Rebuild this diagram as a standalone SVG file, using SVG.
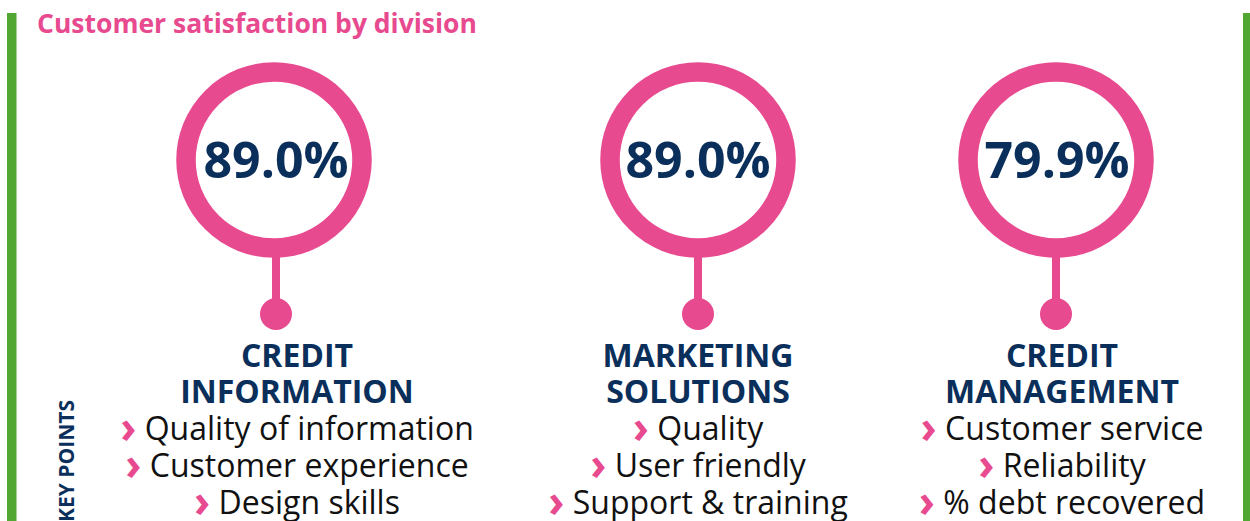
<svg xmlns="http://www.w3.org/2000/svg" width="1250" height="521" viewBox="0 0 1250 521">
<style>
.bar{fill:#52a733}
.ring{fill:#fff;stroke:#e84a8f;stroke-width:19.5}
.stem{stroke:#e84a8f;stroke-width:8}
.dot{fill:#e84a8f}
.pct{font-family:"Open Sans",sans-serif;font-weight:bold;font-size:50px;fill:#0b2f5b;text-anchor:middle}
.head{font-family:"Open Sans",sans-serif;font-weight:bold;font-size:32px;fill:#0b2f5b;text-anchor:middle}
.item{font-family:"Open Sans",sans-serif;font-size:32px;fill:#111;text-anchor:middle}
.chev{fill:#e84a8f;font-weight:bold;font-size:44px}
.title{font-family:"Open Sans",sans-serif;font-weight:bold;font-size:26.5px;fill:#e84a8f}
.key{font-family:"Open Sans",sans-serif;font-weight:bold;font-size:21px;fill:#0b2f5b;text-anchor:end}
</style>
<rect class="bar" x="7" y="13" width="9.5" height="508"/>
<rect class="bar" x="1243" y="13" width="7" height="508"/>
<text class="title" x="37" y="33">Customer satisfaction by division</text>
<text class="key" transform="translate(74,400) rotate(-90)">KEY POINTS</text>
<g id="connectors">
<line class="stem" x1="276" y1="255" x2="276" y2="305"/>
<line class="stem" x1="698" y1="255" x2="698" y2="305"/>
<line class="stem" x1="1056" y1="255" x2="1056" y2="305"/>
</g>
<g id="credit-information">
<circle class="ring" cx="274" cy="160" r="88"/>
<text class="pct" x="276" y="178">89.0%</text>
<circle class="dot" cx="276" cy="314" r="16"/>
<text class="head" x="297" y="367">CREDIT</text>
<text class="head" x="297" y="403">INFORMATION</text>
<text class="item" x="297" y="440"><tspan class="chev" dy="3">›</tspan><tspan dy="-3"> Quality of information</tspan></text>
<text class="item" x="297" y="477"><tspan class="chev" dy="3">›</tspan><tspan dy="-3"> Customer experience</tspan></text>
<text class="item" x="297" y="514"><tspan class="chev" dy="3">›</tspan><tspan dy="-3"> Design skills</tspan></text>
</g>
<g id="marketing-solutions">
<circle class="ring" cx="698" cy="160" r="88"/>
<text class="pct" x="698" y="178">89.0%</text>
<circle class="dot" cx="698" cy="314" r="16"/>
<text class="head" x="698" y="367">MARKETING</text>
<text class="head" x="698" y="403">SOLUTIONS</text>
<text class="item" x="698" y="440"><tspan class="chev" dy="3">›</tspan><tspan dy="-3"> Quality</tspan></text>
<text class="item" x="698" y="477"><tspan class="chev" dy="3">›</tspan><tspan dy="-3"> User friendly</tspan></text>
<text class="item" x="698" y="514"><tspan class="chev" dy="3">›</tspan><tspan dy="-3"> Support &amp; training</tspan></text>
</g>
<g id="credit-management">
<circle class="ring" cx="1056" cy="160" r="88"/>
<text class="pct" x="1057" y="178">79.9%</text>
<circle class="dot" cx="1056" cy="314" r="16"/>
<text class="head" x="1062" y="367">CREDIT</text>
<text class="head" x="1062" y="403">MANAGEMENT</text>
<text class="item" x="1062" y="440"><tspan class="chev" dy="3">›</tspan><tspan dy="-3"> Customer service</tspan></text>
<text class="item" x="1062" y="477"><tspan class="chev" dy="3">›</tspan><tspan dy="-3"> Reliability</tspan></text>
<text class="item" x="1062" y="514"><tspan class="chev" dy="3">›</tspan><tspan dy="-3"> % debt recovered</tspan></text>
</g>
</svg>
